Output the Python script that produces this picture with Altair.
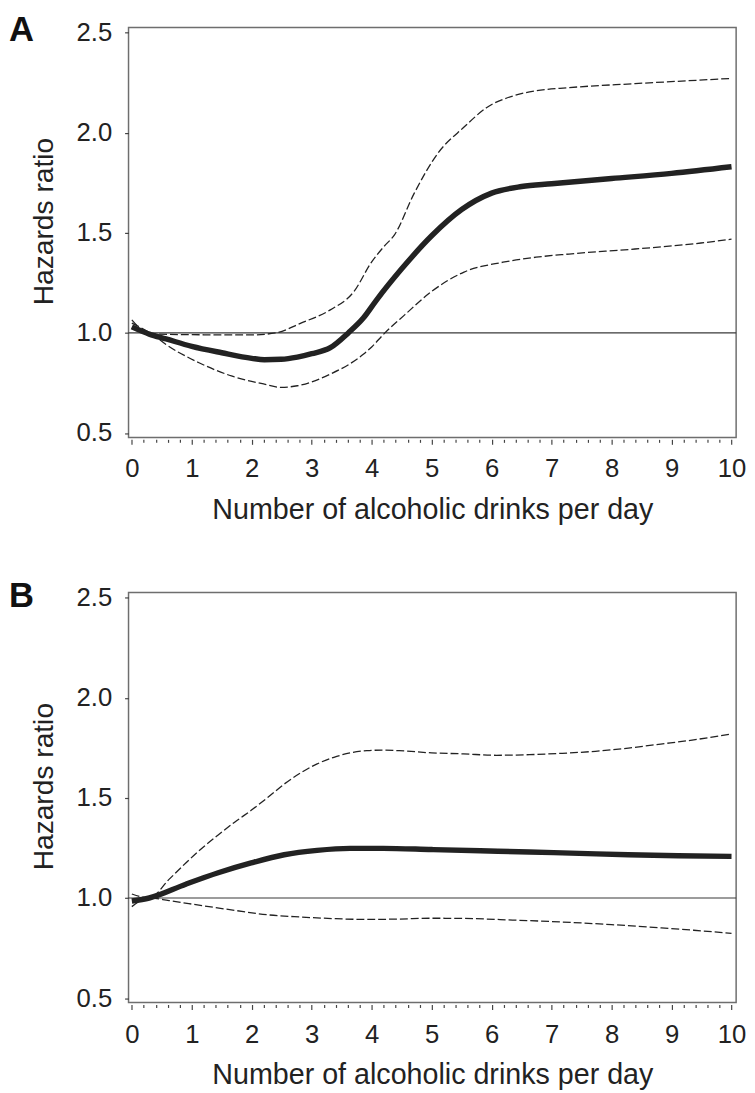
import altair as alt
import pandas as pd

# ---------------- data ----------------
X_TICKS = [round(i * 0.2, 1) for i in range(51)]
Y_TICKS = [0.5, 1.0, 1.5, 2.0, 2.5]
REF_HR = [1.0]

A_MAIN_X = [0.0, 0.29, 0.57, 1.0, 1.5, 2.0, 2.21, 2.49, 2.76, 3.0, 3.31, 3.61, 3.86, 4.08, 4.5, 5.0, 5.5, 6.0, 6.5, 7.0, 8.0, 9.0, 10.0]
A_MAIN_Y = [1.03, 0.994, 0.970, 0.933, 0.901, 0.873, 0.866, 0.868, 0.879, 0.896, 0.926, 1.0, 1.074, 1.164, 1.32, 1.485, 1.616, 1.698, 1.731, 1.745, 1.771, 1.797, 1.83]

A_UP_X = [0.0, 0.3, 1.0, 2.0, 2.4, 2.82, 3.31, 3.7, 4.0, 4.2, 4.38, 4.71, 5.1, 5.54, 5.92, 6.36, 6.74, 7.29, 8.39, 10.0]
A_UP_Y = [1.065, 0.995, 0.991, 0.99, 1.0, 1.049, 1.115, 1.205, 1.355, 1.43, 1.49, 1.698, 1.896, 2.028, 2.126, 2.184, 2.209, 2.225, 2.245, 2.271]

A_LO_X = [0.0, 0.35, 0.57, 1.12, 1.66, 2.21, 2.49, 2.76, 3.31, 3.86, 4.0, 4.22, 4.55, 4.99, 5.54, 6.19, 6.74, 7.29, 8.39, 9.49, 10.0]
A_LO_Y = [1.049, 0.991, 0.942, 0.851, 0.785, 0.744, 0.728, 0.736, 0.794, 0.893, 0.93, 1.0, 1.09, 1.205, 1.304, 1.353, 1.378, 1.394, 1.419, 1.449, 1.468]

B_MAIN_X = [0.0, 0.29, 0.9, 1.44, 1.99, 2.54, 3.09, 3.64, 4.19, 5.0, 5.81, 6.63, 7.46, 8.28, 9.11, 10.0]
B_MAIN_Y = [0.985, 1.0, 1.069, 1.126, 1.175, 1.216, 1.238, 1.248, 1.248, 1.242, 1.236, 1.230, 1.223, 1.216, 1.211, 1.208]

B_UP_X = [0.0, 0.29, 0.62, 0.9, 1.17, 1.44, 1.72, 1.99, 2.27, 2.54, 2.82, 3.09, 3.37, 3.64, 3.92, 4.19, 4.46, 5.0, 5.53, 6.08, 6.63, 7.18, 7.73, 8.28, 8.82, 9.37, 10.0]
B_UP_Y = [1.02, 1.0, 1.093, 1.175, 1.249, 1.315, 1.38, 1.438, 1.503, 1.569, 1.626, 1.67, 1.703, 1.725, 1.736, 1.739, 1.736, 1.725, 1.72, 1.713, 1.716, 1.723, 1.733, 1.749, 1.769, 1.79, 1.82]

B_LO_X = [0.0, 0.29, 0.62, 1.17, 1.72, 2.27, 2.82, 3.37, 3.92, 4.46, 5.0, 5.53, 6.35, 7.18, 8.0, 8.83, 9.37, 10.0]
B_LO_Y = [0.957, 1.0, 0.987, 0.962, 0.938, 0.916, 0.905, 0.897, 0.893, 0.895, 0.899, 0.898, 0.89, 0.88, 0.867, 0.851, 0.839, 0.823]

X_TITLE = "Number of alcoholic drinks per day"
Y_TITLE = "Hazards ratio"

FONT = "Liberation Sans"
INK = "#222222"
FRAME = "#6e6e6e"
TICK = "#444444"


def panel(letter, mx, my, ux, uy, lx, ly, letter_y):
    main_df = pd.DataFrame({"x": mx, "hr": my})
    ci_df = pd.concat([
        pd.DataFrame({"x": ux, "hr": uy, "bound": "upper"}),
        pd.DataFrame({"x": lx, "hr": ly, "bound": "lower"}),
    ])
    ref_df = pd.DataFrame({"hr": REF_HR})
    lab_df = pd.DataFrame({"t": [letter]})

    xaxis = alt.Axis(
        values=X_TICKS,
        labelExpr="datum.value % 1 === 0 ? format(datum.value, 'd') : ''",
        tickSize={"condition": {"test": "datum.value % 1 === 0", "value": 5}, "value": 3},
        tickColor=TICK, tickWidth=1.2,
        offset=2, domain=False, grid=False,
        labelFont=FONT, labelFontSize=26, labelColor=INK, labelPadding=12,
        labelOverlap=False, labelFlush=False, labelBound=False,
        title=X_TITLE, titleFont=FONT, titleFontSize=29, titleFontWeight="normal",
        titleColor=INK, titleBaseline="alphabetic", titleY=80,
    )
    yaxis = alt.Axis(
        values=Y_TICKS, format=".1f",
        tickSize=4, tickColor=TICK, tickWidth=1.2,
        domain=False, grid=False,
        labelFont=FONT, labelFontSize=26, labelColor=INK, labelPadding=13,
        title=Y_TITLE, titleFont=FONT, titleFontSize=28.5, titleFontWeight="normal",
        titleColor=INK, titleAngle=270, titleBaseline="alphabetic", titleAlign="center",
        titleX=-77, titleY=196,
    )
    X = alt.X("x:Q", scale=alt.Scale(domain=[-0.055, 10.077], nice=False, zero=False), axis=xaxis)
    Y = alt.Y("hr:Q", scale=alt.Scale(domain=[0.478, 2.526], nice=False, zero=False), axis=yaxis)

    rule = alt.Chart(ref_df).mark_rule(color="#3a3a3a", strokeWidth=1.1).encode(y=Y)
    ci = alt.Chart(ci_df).mark_line(
        color=INK, strokeWidth=1.3, strokeDash=[8, 3], interpolate="monotone"
    ).encode(x=X, y=Y, detail="bound:N")
    main = alt.Chart(main_df).mark_line(
        color=INK, strokeWidth=5.5, interpolate="monotone"
    ).encode(x=X, y=Y)
    lab = alt.Chart(lab_df).mark_text(
        font=FONT, fontSize=35, fontWeight="bold", color="#111111",
        align="left", baseline="alphabetic"
    ).encode(x=alt.value(-121), y=alt.value(letter_y), text="t:N")
    return alt.layer(rule, ci, main, lab).properties(width=615, height=415)


pa = panel("A", A_MAIN_X, A_MAIN_Y, A_UP_X, A_UP_Y, A_LO_X, A_LO_Y, 13.5)
pb = panel("B", B_MAIN_X, B_MAIN_Y, B_UP_X, B_UP_Y, B_LO_X, B_LO_Y, 15)

chart = alt.vconcat(pa, pb, spacing=54).properties(
    padding={"left": 0, "top": -3, "right": 0, "bottom": 0}
).configure(
    background="white",
    view=alt.ViewConfig(stroke=FRAME, strokeWidth=1.5),
)

chart.save("out.html", embed_options={"renderer": "svg", "actions": False})
